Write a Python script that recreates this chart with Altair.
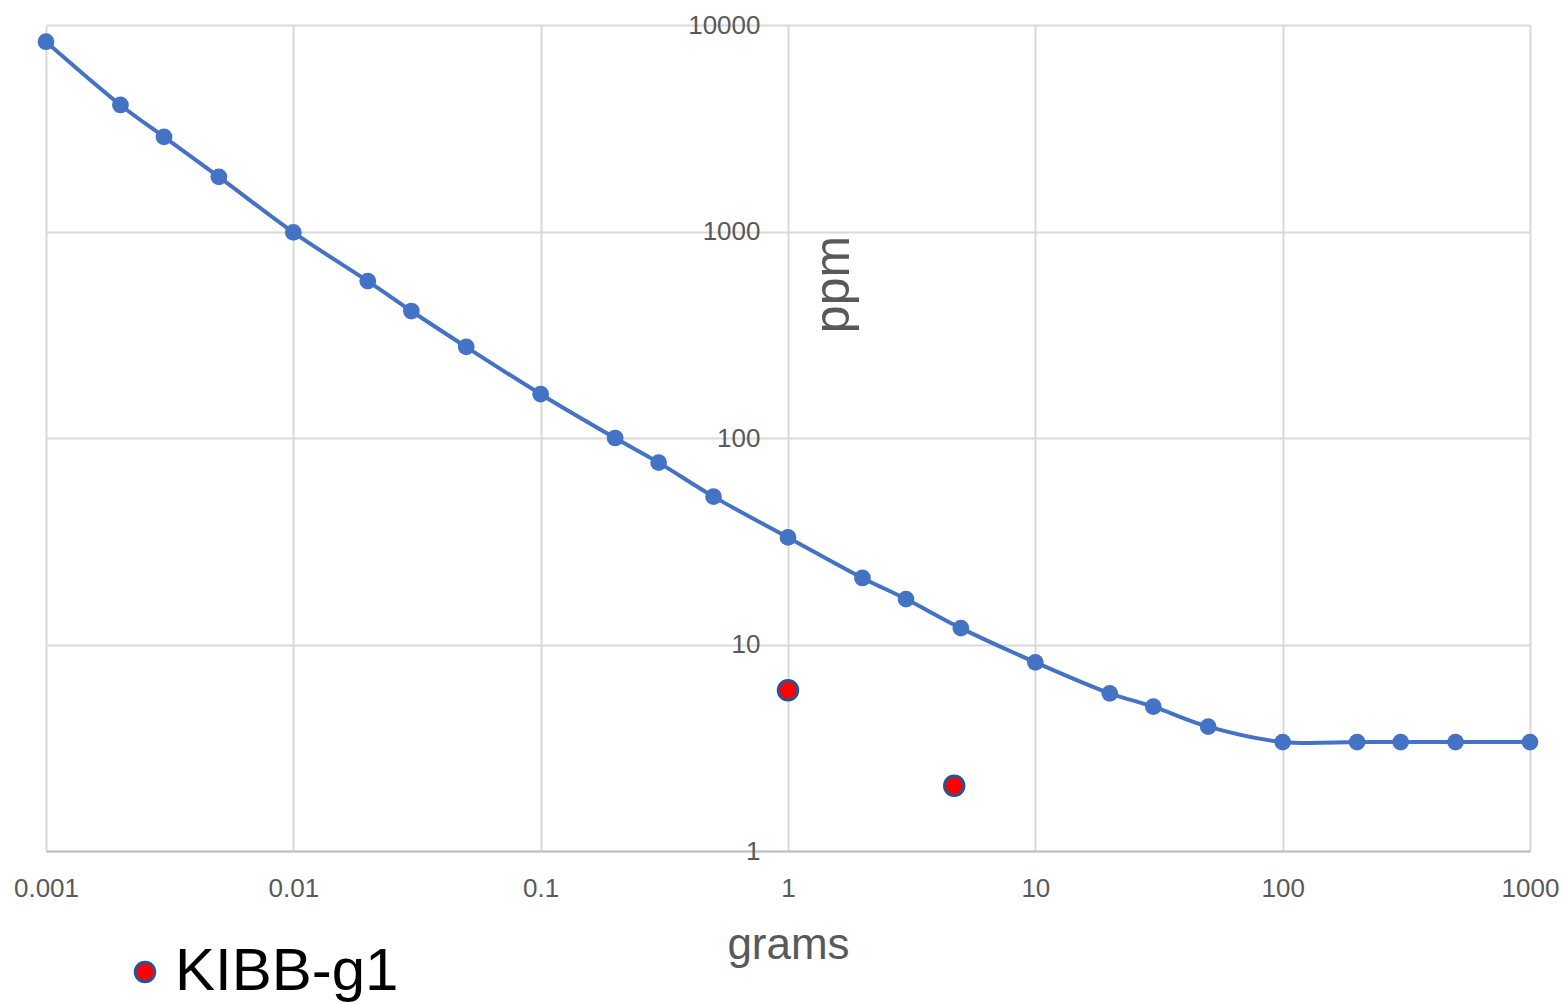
import altair as alt
import pandas as pd

# Blue curve: grams vs ppm
grams = [0.001, 0.002, 0.003, 0.005, 0.01, 0.02, 0.03, 0.05, 0.1, 0.2, 0.3, 0.5,
         1, 2, 3, 5, 10, 20, 30, 50, 100, 200, 300, 500, 1000]
ppm = [8300, 4100, 2870, 1840, 990, 575, 412, 276, 163, 100, 76, 52,
       33, 21, 16.6, 12, 8.2, 5.8, 5.0, 4.0, 3.37, 3.37, 3.37, 3.37, 3.37]

# Red points: KIBB-g1
kibb_grams = [1, 4.7]
kibb_ppm = [6.0, 2.07]
kibb_label = "KIBB-g1"

x_ticks = [0.001, 0.01, 0.1, 1, 10, 100, 1000]
y_ticks = [1, 10, 100, 1000, 10000]

curve = pd.DataFrame({"grams": grams, "ppm": ppm})
kibb = pd.DataFrame({"grams": kibb_grams, "ppm": kibb_ppm,
                     "series": [kibb_label] * len(kibb_grams)})

FONT = "Liberation Sans"
GRID = "#D9D9D9"
TXT = "#595959"

x_enc = alt.X("grams:Q",
              scale=alt.Scale(type="log", domain=[0.001, 1000], nice=False),
              axis=alt.Axis(values=x_ticks, format="~g", title="grams",
                            grid=True, gridColor=GRID, gridWidth=2,
                            domainColor="#BFBFBF", domainWidth=2,
                            ticks=False, labelPadding=24, labelFontSize=26,
                            labelFlush=False,
                            labelColor=TXT, labelFont=FONT,
                            titleFontSize=44, titleColor=TXT, titleFont=FONT,
                            titleFontWeight="normal",
                            titleX=742, titleY=107, titleBaseline="alphabetic",
                            titleAlign="center"))
y_enc = alt.Y("ppm:Q",
              scale=alt.Scale(type="log", domain=[1, 10000], nice=False),
              axis=alt.Axis(values=y_ticks, format="~g", title="ppm",
                            orient="left", offset=-742,
                            grid=True, gridColor=GRID, gridWidth=2,
                            domain=False, ticks=False, labelPadding=28,
                            labelFontSize=26, labelColor=TXT, labelFont=FONT,
                            labelBaseline="middle", labelFlush=False,
                            titleFontSize=50, titleColor=TXT, titleFont=FONT,
                            titleFontWeight="normal", titleAngle=270,
                            titleX=60, titleY=259, titleBaseline="alphabetic",
                            titleAlign="center"))

line = alt.Chart(curve).mark_line(
    color="#4472C4", strokeWidth=4, interpolate="catmull-rom"
).encode(x=x_enc, y=y_enc)

pts = alt.Chart(curve).mark_circle(color="#4472C4", size=280, opacity=1).encode(
    x="grams:Q", y="ppm:Q")

red = alt.Chart(kibb).mark_point(
    filled=True, size=380, stroke="#2F528F", strokeWidth=3, opacity=1,
    shape="circle"
).encode(
    x="grams:Q", y="ppm:Q",
    fill=alt.Fill("series:N",
                  scale=alt.Scale(domain=[kibb_label], range=["#FF0000"]),
                  legend=alt.Legend(title=None, orient="none",
                                    legendX=69, legendY=917,
                                    symbolType="circle", symbolSize=380,
                                    symbolStrokeColor="#2F528F",
                                    symbolStrokeWidth=3,
                                    labelFontSize=60, labelFont=FONT,
                                    labelColor="#000000", labelOffset=0,
                                    labelLimit=600))
)

chart = alt.layer(line, pts, red).properties(
    width=1484, height=826,
    autosize=alt.AutoSizeParams(type="none"),
    padding={"left": 46, "top": 25, "right": 36, "bottom": 153},
    background="white",
).configure_view(stroke="transparent")

chart.save("out.html", embed_options={"renderer": "svg", "actions": False})
